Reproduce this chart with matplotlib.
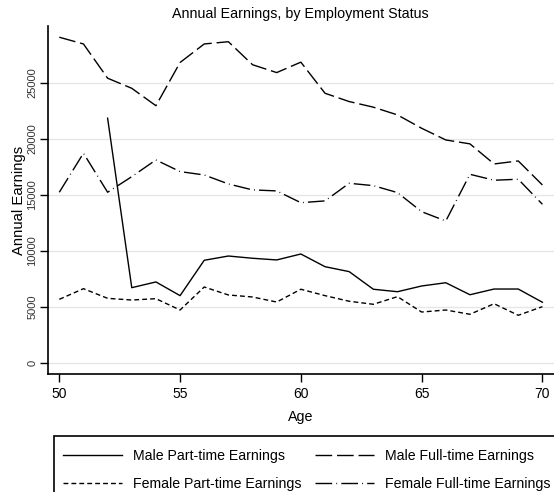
import matplotlib
matplotlib.use("Agg")
import matplotlib.pyplot as plt
from matplotlib.patches import Rectangle

plt.rcParams['font.family'] = ['Liberation Sans', 'DejaVu Sans']

ages = list(range(50, 71))

male_full = [29050, 28450, 25400, 24500, 22950, 26800, 28450, 28650, 26600, 25900,
             26830, 24060, 23320, 22820, 22130, 20940, 19900, 19550, 17760, 18030, 15890]
female_full = [15240, 18720, 15240, 16630, 18120, 17080, 16780, 15980, 15450, 15360,
               14310, 14470, 16040, 15830, 15210, 13510, 12680, 16840, 16310, 16400, 14170]
male_part = [None, None, 21840, 6740, 7250, 6030, 9180, 9560, 9360, 9210,
             9740, 8610, 8170, 6600, 6380, 6890, 7180, 6110, 6620, 6620, 5440]
female_part = [5700, 6650, 5790, 5640, 5760, 4750, 6800, 6090, 5910, 5460,
               6600, 6030, 5530, 5260, 5940, 4570, 4750, 4370, 5310, 4280, 5050]

labels = ["Male Part-time Earnings", "Male Full-time Earnings",
          "Female Part-time Earnings", "Female Full-time Earnings"]

x_ticks = [50, 55, 60, 65, 70]
y_ticks = [0, 5000, 10000, 15000, 20000, 25000]

W, H = 554, 492
fig = plt.figure(figsize=(W / 100, H / 100), dpi=100)
ax = fig.add_axes([47.7 / W, 1 - 374 / H, (554 - 47.7) / W, (374 - 26) / H])

lw = 1.0
mp_x = [a for a, v in zip(ages, male_part) if v is not None]
mp_y = [v for v in male_part if v is not None]
l1, = ax.plot(mp_x, mp_y, color='black', lw=lw, linestyle='-')
l2, = ax.plot(ages, male_full, color='black', lw=lw, dashes=(12, 3.5))
l3, = ax.plot(ages, female_part, color='black', lw=lw, dashes=(3.5, 2.2))
l4, = ax.plot(ages, female_full, color='black', lw=lw, dashes=(12, 3, 0.6, 3))

ax.set_xlim(49.52, 70.48)
ax.set_ylim(-950, 30050)
ax.set_xticks(x_ticks)
ax.set_yticks(y_ticks)
ax.set_yticklabels([str(v) for v in y_ticks], rotation=90, va='center', fontsize=8, color='#333333')
ax.set_xticklabels([str(v) for v in x_ticks], fontsize=10)
ax.tick_params(axis='both', direction='out', length=5.5, width=1, color='black')
ax.tick_params(axis='y', pad=2)
ax.tick_params(axis='x', pad=4)
ax.grid(axis='y', color='#e6e6e6', lw=1)
ax.set_axisbelow(True)
for s in ['top', 'right']:
    ax.spines[s].set_visible(False)
for s in ['left', 'bottom']:
    ax.spines[s].set_linewidth(1.2)

ax.set_xlabel("Age", fontsize=10.3, labelpad=6)
ax.set_ylabel("Annual Earnings", fontsize=10.7, labelpad=1)
fig.text(300 / W, 1 - 14 / H, "Annual Earnings, by Employment Status",
         ha='center', va='center', fontsize=10.3)

# legend box, running off the right and bottom edges
fig.patches.append(Rectangle((54 / W, -0.1), 1.0, 0.1 + 1 - 436 / H, transform=fig.transFigure,
                             fill=False, edgecolor='black', lw=1.2))
fig.legend([l1, l3, l2, l4], [labels[0], labels[2], labels[1], labels[3]],
           ncol=2, frameon=False, fontsize=10.2,
           loc='upper left', bbox_to_anchor=(63 / W, 1 - 449 / H),
           handlelength=4.16, handletextpad=0.77, columnspacing=0.95, labelspacing=1.0,
           borderaxespad=0, borderpad=0)

fig.savefig("out.png", dpi=100)
